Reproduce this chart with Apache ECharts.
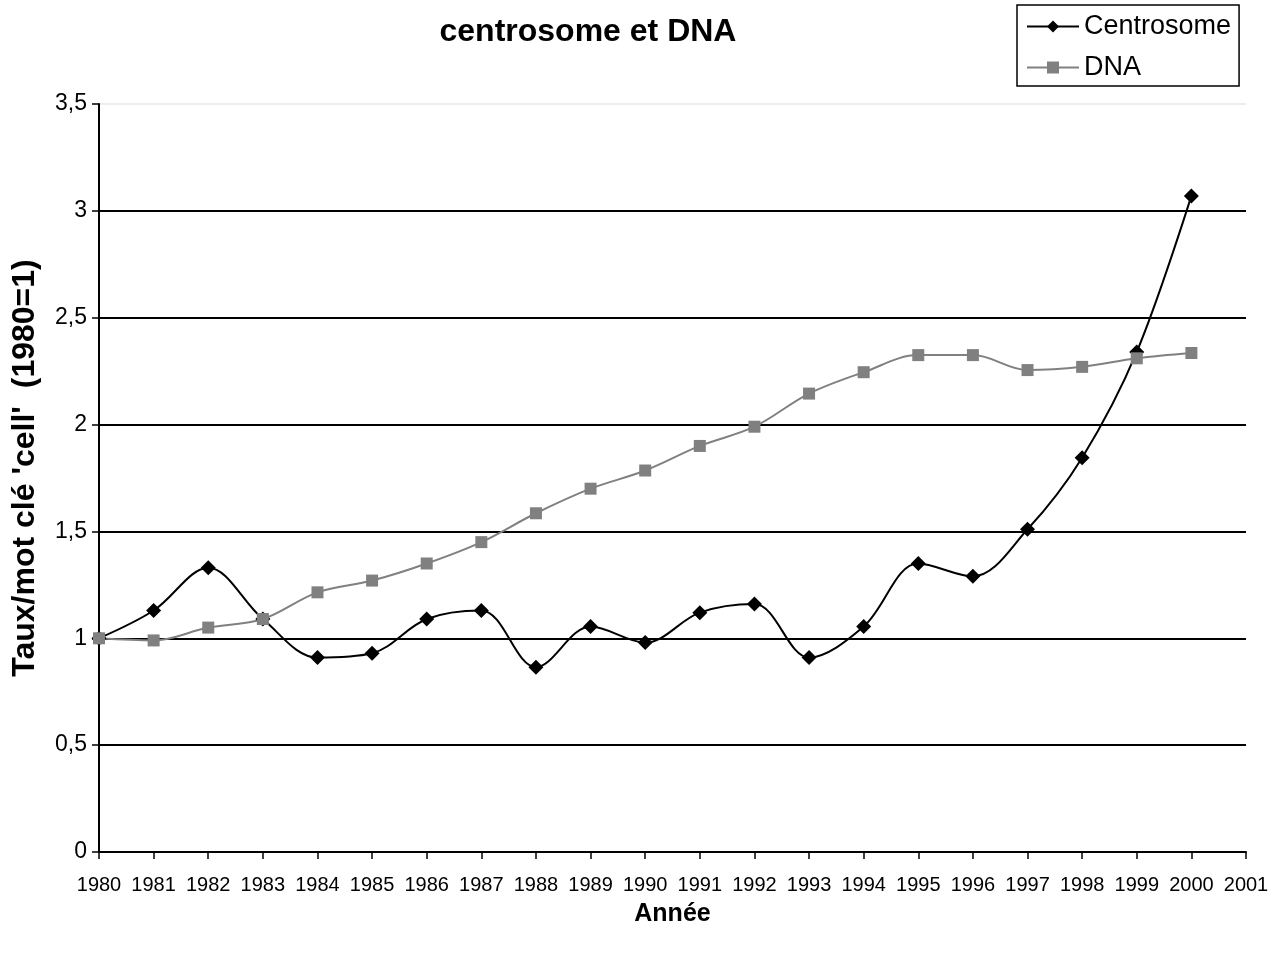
<!DOCTYPE html>
<html>
<head>
<meta charset="utf-8">
<script src="https://cdn.jsdelivr.net/npm/echarts@6/dist/echarts.min.js"></script>
<style>html,body{margin:0;padding:0;background:#fff;}#chart{width:1282px;height:954px;}</style>
</head>
<body>
<div id="chart"></div>
<script>
const years = ['1980','1981','1982','1983','1984','1985','1986','1987','1988','1989','1990','1991','1992','1993','1994','1995','1996','1997','1998','1999','2000','2001'];
const centrosome = [1.00,1.13,1.33,1.09,0.91,0.93,1.09,1.13,0.865,1.055,0.98,1.12,1.16,0.91,1.055,1.35,1.29,1.51,1.845,2.34,3.07];
const dna = [1.00,0.99,1.05,1.09,1.215,1.27,1.35,1.45,1.585,1.70,1.785,1.90,1.99,2.145,2.245,2.325,2.325,2.255,2.27,2.31,2.335];
const titleText = 'centrosome et DNA';
const yTitle = "Taux/mot clé 'cell'  (1980=1)";
const xTitle = 'Année';

const FONT = 'Liberation Sans, Arial, sans-serif';
const chart = echarts.init(document.getElementById('chart'));
chart.setOption({
  backgroundColor: '#fff',
  animation: false,
  title: {
    text: titleText,
    left: 583, top: 11, textAlign: 'center',
    textStyle: {fontFamily: FONT, fontSize: 32, fontWeight: 'bold', color: '#000'}
  },
  graphic: [{
    type: 'text',
    x: 25, y: 468, rotation: Math.PI / 2,
    style: {text: yTitle, fontFamily: FONT, fontSize: 32, fontWeight: 'bold', fill: '#000',
      textAlign: 'center', textVerticalAlign: 'middle'}
  }],
  legend: {
    orient: 'vertical',
    left: 1017, top: 5,
    borderColor: '#000', borderWidth: 1.5,
    padding: [8, 8, 5, 9],
    itemWidth: 52, itemHeight: 15, itemGap: 14,
    textStyle: {fontFamily: FONT, fontSize: 27, color: '#000', padding: [0,0,0,0]},
    data: ['Centrosome', 'DNA']
  },
  grid: {left: 99, right: 36, top: 104, bottom: 102, containLabel: false},
  xAxis: {
    type: 'category', data: years, boundaryGap: false,
    name: xTitle, nameLocation: 'middle', nameGap: 50,
    nameTextStyle: {fontFamily: FONT, fontSize: 25, fontWeight: 'bold', color: '#000'},
    axisLine: {lineStyle: {color: '#000', width: 2}},
    axisTick: {show: true, length: 7, inside: false, lineStyle: {color: '#000', width: 1.5}, alignWithLabel: true},
    axisLabel: {fontFamily: FONT, fontSize: 20, color: '#000', margin: 23, interval: 0},
    splitLine: {show: false}
  },
  yAxis: {
    type: 'value', min: 0, max: 3.5, interval: 0.5,
    axisLine: {show: true, lineStyle: {color: '#000', width: 2}},
    axisTick: {show: true, length: 7, lineStyle: {color: '#000', width: 1.5}},
    axisLabel: {fontFamily: FONT, fontSize: 23, color: '#000', margin: 12,
      formatter: v => String(v).replace('.', ',')},
    splitLine: {show: true, lineStyle: {color: ['#000','#000','#000','#000','#000','#000','#000','#eeeeee'], width: 2}}
  },
  series: [
    {
      name: 'Centrosome', type: 'line', data: centrosome, smooth: 0.35,
      symbol: 'diamond', symbolSize: 15,
      lineStyle: {color: '#000', width: 2},
      itemStyle: {color: '#000'}
    },
    {
      name: 'DNA', type: 'line', data: dna, smooth: 0.35,
      symbol: 'rect', symbolSize: 12,
      lineStyle: {color: '#808080', width: 2},
      itemStyle: {color: '#808080'}
    }
  ]
});
</script>
</body>
</html>
